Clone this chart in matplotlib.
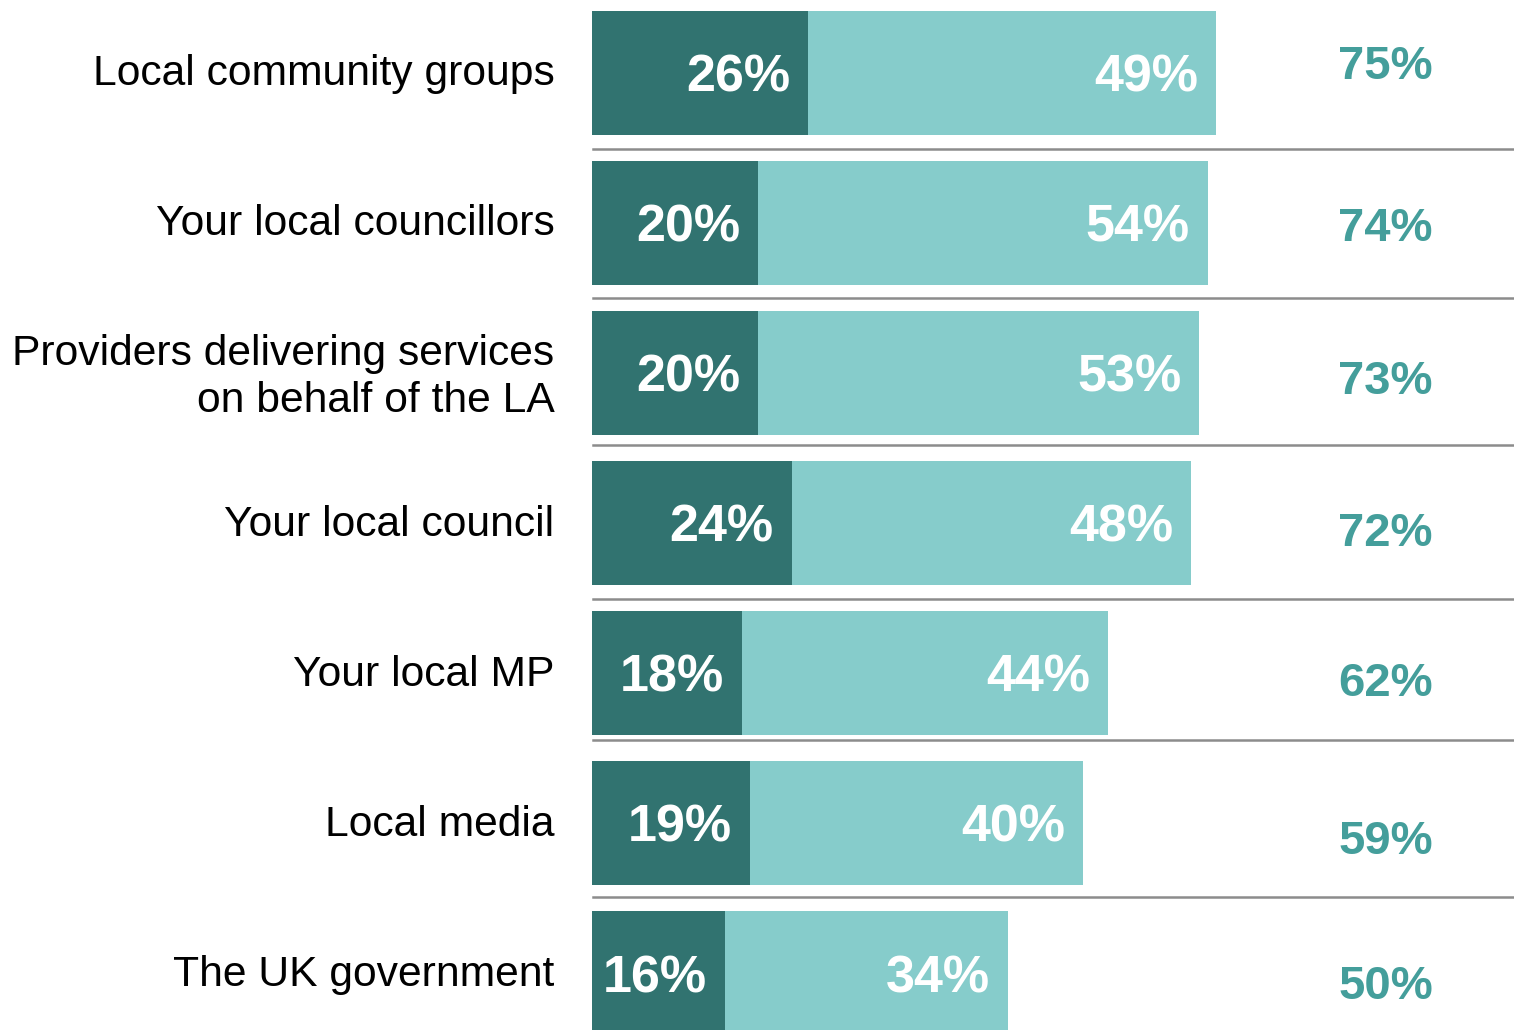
import matplotlib.pyplot as plt

plt.rcParams['font.family'] = ['Liberation Sans', 'DejaVu Sans']

categories = ['Local community groups', 'Your local councillors',
              'Providers delivering services\non behalf of the LA',
              'Your local council', 'Your local MP', 'Local media',
              'The UK government']
strongly = [26, 20, 20, 24, 18, 19, 16]
somewhat = [49, 54, 53, 48, 44, 40, 34]
totals = [75, 74, 73, 72, 62, 59, 50]

# small vertical nudges seen in the original (in row units)
total_shift = [-0.07, 0.01, 0.03, 0.04, 0.04, 0.09, 0.06]
sep_pos = [0.507, 1.5, 2.48, 3.507, 4.447, 5.493]

dark = '#317370'
light = '#86CCCB'
total_col = '#449E9B'

W, H = 1514, 1030
fig = plt.figure(figsize=(W / 100, H / 100), dpi=100)
x0 = 592
ax = fig.add_axes([x0 / W, 0, 1 - x0 / W, 1])
ax.set_xlim(0, (W - x0) / 8.32)
ax.set_ylim((H - 73) / 150, -73 / 150)
ax.axis('off')

ys = list(range(len(categories)))
ax.barh(ys, strongly, height=124 / 150, color=dark)
ax.barh(ys, somewhat, left=strongly, height=124 / 150, color=light)

for s in sep_pos:
    ax.plot([0.1, 200], [s, s], color='#8C8C8C', lw=1.8, clip_on=False)

for i, y in enumerate(ys):
    ax.annotate(f'{strongly[i]}%', (strongly[i], y), xytext=(-13, 0),
                textcoords='offset points', ha='right', va='center_baseline',
                color='white', fontsize=37.5, fontweight='bold')
    ax.annotate(f'{somewhat[i]}%', (strongly[i] + somewhat[i], y), xytext=(-13, 0),
                textcoords='offset points', ha='right', va='center_baseline',
                color='white', fontsize=37.5, fontweight='bold')
    ax.text(95.4, y + total_shift[i], f'{totals[i]}%', ha='center',
            va='center_baseline', color=total_col, fontsize=34, fontweight='bold')
    ax.annotate(categories[i], (0, y - 0.02), xytext=(-27, 0),
                textcoords='offset points', ha='right', va='center_baseline',
                color='black', fontsize=30.7, linespacing=1.2,
                annotation_clip=False)

fig.savefig('out.png', dpi=100)
